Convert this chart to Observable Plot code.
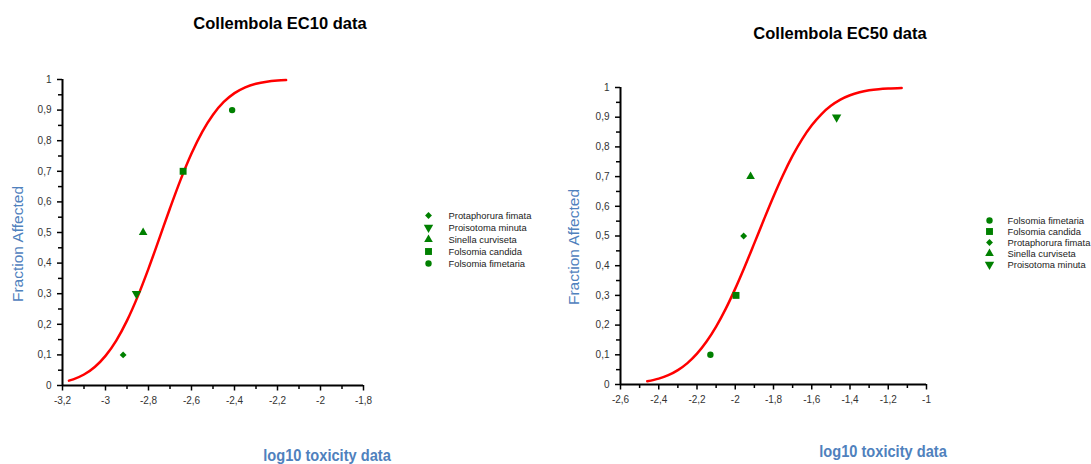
<!DOCTYPE html>
<html>
<head>
<meta charset="utf-8">
<script src="https://cdn.jsdelivr.net/npm/d3@7"></script>
<script src="https://cdn.jsdelivr.net/npm/@observablehq/plot@0.6"></script>
<style>
  html, body { margin: 0; padding: 0; background: #fff; }
  #root { position: relative; width: 1091px; height: 464px; overflow: hidden; font-family: "Liberation Sans", Arial, sans-serif; }
  .abs { position: absolute; white-space: nowrap; line-height: 1; }
  .title { font-weight: bold; font-size: 16.5px; color: #000; transform: translate(-50%, -50%); }
  .xlab { font-family: "Liberation Sans", Arial, sans-serif; font-weight: bold; font-size: 17px; color: #4f81bd; transform: translate(-50%, -50%) scaleX(0.86); }
  .ylab { font-size: 15.5px; color: #4f81bd; transform: translate(-50%, -50%) rotate(-90deg); }
</style>
</head>
<body>
<div id="root">
  <div class="abs title" style="left:280px; top:23px;">Collembola EC10 data</div>
  <div class="abs title" style="left:840px; top:33px;">Collembola EC50 data</div>
  <div class="abs ylab" style="left:18px; top:244px;">Fraction Affected</div>
  <div class="abs ylab" style="left:574px; top:247px;">Fraction Affected</div>
  <div class="abs xlab" style="left:327px; top:455px;">log10 toxicity data</div>
  <div class="abs xlab" style="left:883px; top:451px;">log10 toxicity data</div>
</div>
<script>
// ---------- data ----------
const ec10Species = ["Protaphorura fimata", "Proisotoma minuta", "Sinella curviseta", "Folsomia candida", "Folsomia fimetaria"];
const ec10X = [-2.918, -2.856, -2.825, -2.639, -2.411];
const ec10Y = [0.1, 0.3, 0.5, 0.7, 0.9];

const ec50Species = ["Folsomia fimetaria", "Folsomia candida", "Protaphorura fimata", "Sinella curviseta", "Proisotoma minuta"];
const ec50X = [-2.13, -1.996, -1.956, -1.92, -1.47];
const ec50Y = [0.1, 0.3, 0.5, 0.7, 0.9];

// fitted curves
const ec10CurveX = [-3.17, -3.15, -3.10, -3.05, -3.00, -2.95, -2.90, -2.85, -2.80, -2.75, -2.70, -2.65, -2.60, -2.55, -2.50, -2.45, -2.40, -2.35, -2.30, -2.25, -2.20, -2.16];
const ec10CurveY = [0.0158, 0.0202, 0.0359, 0.0606, 0.0968, 0.1469, 0.2119, 0.2912, 0.3821, 0.4801, 0.5793, 0.6736, 0.7580, 0.8289, 0.8849, 0.9265, 0.9554, 0.9744, 0.9861, 0.9929, 0.9965, 0.9981];

const ec50CurveX = [-2.46, -2.40, -2.35, -2.30, -2.25, -2.20, -2.15, -2.10, -2.05, -2.00, -1.95, -1.90, -1.85, -1.80, -1.75, -1.70, -1.65, -1.60, -1.55, -1.50, -1.45, -1.40, -1.35, -1.30, -1.25, -1.20, -1.13];
const ec50CurveY = [0.0107, 0.0197, 0.0314, 0.0485, 0.0721, 0.1038, 0.1446, 0.1949, 0.2546, 0.3228, 0.3974, 0.4761, 0.5557, 0.6331, 0.7054, 0.7704, 0.8264, 0.8729, 0.9099, 0.9382, 0.9591, 0.9738, 0.9838, 0.9904, 0.9945, 0.9969, 0.9987];

// tick values
const ec10XTicks = [-3.2, -3.0, -2.8, -2.6, -2.4, -2.2, -2.0, -1.8];
const ec10XMinor = [-3.1, -2.9, -2.7, -2.5, -2.3, -2.1, -1.9];
const ec50XTicks = [-2.6, -2.4, -2.2, -2.0, -1.8, -1.6, -1.4, -1.2, -1.0];
const ec50XMinor = [-2.5, -2.3, -2.1, -1.9, -1.7, -1.5, -1.3, -1.1];
const yTicks = [0, 0.1, 0.2, 0.3, 0.4, 0.5, 0.6, 0.7, 0.8, 0.9, 1];
const yMinor = [0.05, 0.15, 0.25, 0.35, 0.45, 0.55, 0.65, 0.75, 0.85, 0.95];

// ---------- symbols ----------
const triangleDown = {
  draw(context, size) {
    const y = -Math.sqrt(size / (Math.sqrt(3) * 3));
    context.moveTo(0, -y * 2);
    context.lineTo(-Math.sqrt(3) * y, y);
    context.lineTo(Math.sqrt(3) * y, y);
    context.closePath();
  }
};
const allSpecies = ["Protaphorura fimata", "Proisotoma minuta", "Sinella curviseta", "Folsomia candida", "Folsomia fimetaria"];
const allSymbols = ["diamond2", triangleDown, "triangle", "square", "circle"];
const symbolRadius = {"Protaphorura fimata": 3.1, "Proisotoma minuta": 3.5, "Sinella curviseta": 3.2, "Folsomia candida": 3.9, "Folsomia fimetaria": 3.2};

const GREEN = "#008000";
const fmt = d => String(Math.round(d * 10) / 10).replace(".", ",");
const baseStyle = {fontFamily: "'Liberation Sans', Arial, sans-serif", fontSize: "10px", color: "#333", background: "transparent", overflow: "visible"};

function chart(o) {
  const pts = o.species.map((s, i) => ({species: s, x: o.xs[i], y: o.ys[i]}));
  const curve = o.curveX.map((x, i) => ({x, y: o.curveY[i]}));
  return Plot.plot({
    width: o.width, height: o.height,
    marginLeft: o.marginLeft, marginRight: o.marginRight, marginTop: o.marginTop, marginBottom: o.marginBottom,
    x: {domain: o.xDomain, label: null},
    y: {domain: [0, 1], label: null},
    r: {type: "identity"},
    symbol: {domain: allSpecies, range: allSymbols},
    style: baseStyle,
    marks: [
      Plot.axisX(o.xMinor, {tickSize: 4, tickFormat: () => "", stroke: "#000", strokeWidth: 1.5, label: null}),
      Plot.axisX(o.xTicks, {tickSize: 5.5, tickPadding: 6, tickFormat: fmt, stroke: "#000", strokeWidth: 1.5, label: null}),
      Plot.axisY(yMinor, {tickSize: 4, tickFormat: () => "", stroke: "#000", strokeWidth: 1.5, label: null}),
      Plot.axisY(yTicks, {tickSize: 5, tickPadding: 6, tickFormat: fmt, stroke: "#000", strokeWidth: 1.5, label: null}),
      Plot.ruleX([o.xDomain[0]], {y1: 0, y2: 1, stroke: "#000", strokeWidth: 2}),
      Plot.ruleY([0], {stroke: "#000", strokeWidth: 2}),
      Plot.line(curve, {x: "x", y: "y", stroke: "#ff0000", strokeWidth: 2.5, curve: "monotone-x"}),
      Plot.dot(pts, {x: "x", y: "y", symbol: "species", fill: GREEN, r: d => symbolRadius[d.species]})
    ]
  });
}

function legend(species, o) {
  return Plot.plot({
    width: o.width, height: o.height, margin: 0,
    x: {domain: [0, 1], range: [o.x0, o.x0 + 1], axis: null},
    y: {type: "point", domain: species, range: [o.y0, o.y1], padding: 0, axis: null},
    r: {type: "identity"},
    symbol: {domain: allSpecies, range: allSymbols},
    style: {...baseStyle, color: "#222"},
    marks: [
      Plot.dot(species, {x: () => 0, y: d => d, symbol: d => d, fill: GREEN, r: d => symbolRadius[d]}),
      Plot.text(species, {x: () => 0, y: d => d, text: d => d, dx: o.dx, textAnchor: "start", fontSize: 9.4, fill: "#222"})
    ]
  });
}

const root = document.getElementById("root");
function place(el, left, top) {
  el.style.position = "absolute";
  el.style.left = left + "px";
  el.style.top = top + "px";
  el.style.maxWidth = "none";
  root.appendChild(el);
}

place(chart({
  width: 400, height: 464, marginLeft: 62, marginRight: 37, marginTop: 79, marginBottom: 79,
  xDomain: [-3.2, -1.8], xTicks: ec10XTicks, xMinor: ec10XMinor,
  species: ec10Species, xs: ec10X, ys: ec10Y, curveX: ec10CurveX, curveY: ec10CurveY
}), 0, 0);

place(chart({
  width: 400, height: 464, marginLeft: 60, marginRight: 34, marginTop: 87, marginBottom: 80,
  xDomain: [-2.6, -1.0], xTicks: ec50XTicks, xMinor: ec50XMinor,
  species: ec50Species, xs: ec50X, ys: ec50Y, curveX: ec50CurveX, curveY: ec50CurveY
}), 560, 0);

place(legend(ec10Species, {width: 130, height: 70, x0: 13, dx: 20, y0: 10, y1: 58.3}), 415, 205);
place(legend(ec50Species, {width: 116, height: 70, x0: 14, dx: 18, y0: 10, y1: 57.7}), 975, 208);
</script>
</body>
</html>
